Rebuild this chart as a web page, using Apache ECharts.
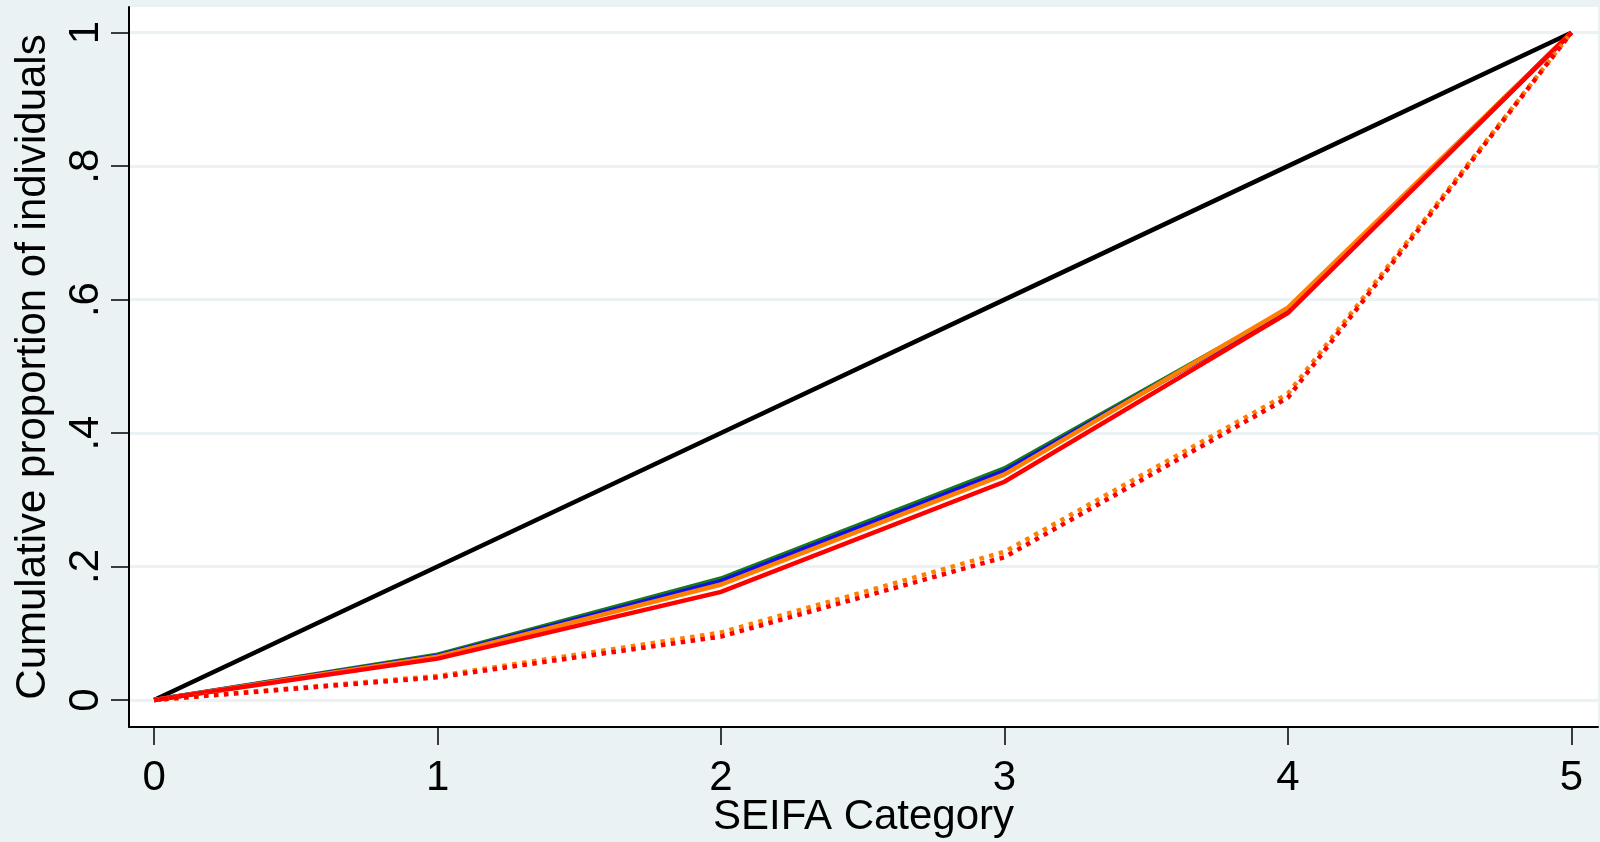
<!DOCTYPE html>
<html>
<head>
<meta charset="utf-8">
<script src="https://cdn.jsdelivr.net/npm/echarts@6/dist/echarts.min.js"></script>
<style>
html,body{margin:0;padding:0;background:#EAF2F3;}
#chart{width:1600px;height:842px;}
</style>
</head>
<body>
<div id="chart"></div>
<script>
const categories = [0, 1, 2, 3, 4, 5];
const equalityLine = [0, 0.2, 0.4, 0.6, 0.8, 1];
const greenSolid = [0, 0.068, 0.182, 0.347, 0.585, 1];
const blueSolid = [0, 0.066, 0.178, 0.343, 0.584, 1];
const orangeSolid = [0, 0.065, 0.173, 0.338, 0.588, 1];
const redSolid = [0, 0.062, 0.162, 0.327, 0.580, 1];
const orangeDotted = [0, 0.036, 0.101, 0.222, 0.459, 1];
const redDotted = [0, 0.034, 0.095, 0.214, 0.453, 1];
const xTicks = [0, 1, 2, 3, 4, 5];
const yTicks = [0, 0.2, 0.4, 0.6, 0.8, 1];
const yTickLabels = ['0', '.2', '.4', '.6', '.8', '1'];

function pairs(vals) { return categories.map((c, i) => [c, vals[i]]); }
function solid(name, vals, color) {
  return { name, type: 'line', data: pairs(vals), showSymbol: false, symbol: 'none',
    lineStyle: { color, width: 4.5, cap: 'butt', join: 'miter' }, z: 3 };
}
function dotted(name, vals, color) {
  return { name, type: 'line', data: pairs(vals), showSymbol: false, symbol: 'none',
    lineStyle: { color, width: 4.5, type: [4.5, 5.5], cap: 'butt' }, z: 3 };
}

const chart = echarts.init(document.getElementById('chart'), null, { renderer: 'canvas' });
const font = 'Liberation Sans, Arial, sans-serif';
chart.setOption({
  animation: false,
  backgroundColor: '#EAF2F3',
  textStyle: { fontFamily: font },
  grid: { left: 129, right: 2, top: 7, bottom: 115, show: true, backgroundColor: '#ffffff', borderWidth: 0,
    containLabel: false, outerBoundsMode: 'none' },
  xAxis: {
    type: 'value', min: -0.0886, max: 5.094,
    name: 'SEIFA Category', nameLocation: 'middle', nameGap: 69, nameMoveOverlap: false,
    nameTextStyle: { fontSize: 42, color: '#000', fontFamily: font },
    axisLine: { show: true, onZero: false, lineStyle: { color: '#000', width: 2 } },
    axisTick: { show: true, inside: false, length: 18, customValues: xTicks, lineStyle: { color: '#000', width: 1.5 } },
    axisLabel: { customValues: xTicks, fontSize: 42, color: '#000', margin: 30, fontFamily: font },
    splitLine: { show: false }
  },
  yAxis: {
    type: 'value', min: -0.0405, max: 1.0385,
    name: 'Cumulative proportion of individuals', nameLocation: 'middle', nameGap: 75, nameMoveOverlap: false,
    nameTextStyle: { fontSize: 42, color: '#000', fontFamily: font },
    axisLine: { show: true, onZero: false, lineStyle: { color: '#000', width: 2 } },
    axisTick: { show: true, inside: false, length: 18, customValues: yTicks, lineStyle: { color: '#000', width: 1.5 } },
    axisLabel: { customValues: yTicks, rotate: 90, fontSize: 42, color: '#000', margin: 22, fontFamily: font,
      formatter: v => { const i = yTicks.findIndex(t => Math.abs(t - v) < 1e-9); return i >= 0 ? yTickLabels[i] : ''; } },
    splitLine: { show: true, lineStyle: { color: '#EAF2F3', width: 3 } }
  },
  series: [
    solid('Equality', equalityLine, '#000000'),
    solid('Green', greenSolid, '#1a7a1a'),
    solid('Blue', blueSolid, '#1010ee'),
    solid('Orange', orangeSolid, '#ff8000'),
    solid('Red', redSolid, '#ff0000'),
    dotted('Orange dotted', orangeDotted, '#ff8000'),
    dotted('Red dotted', redDotted, '#ff0000')
  ]
});
</script>
</body>
</html>
